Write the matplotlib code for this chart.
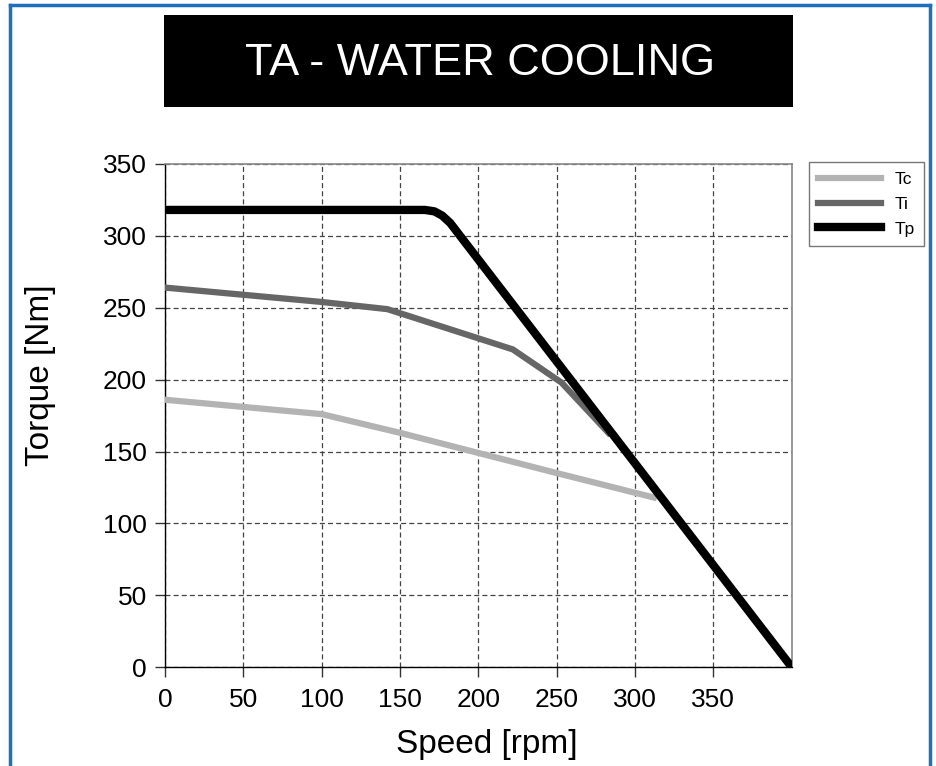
"""
Torque vs speed curves, TA water cooling.
"""

import matplotlib

matplotlib.use("Agg")

import matplotlib.pyplot as plt
from matplotlib.patches import Rectangle
from matplotlib.lines import Line2D


# speed [rpm] / torque [Nm]
TC_SPEED = [0, 100, 150, 200, 250, 312]
TC_TORQUE = [186, 176, 163, 149, 135, 118]

TI_SPEED = [0, 100, 142, 222, 253, 283]
TI_TORQUE = [264, 254, 249, 221, 198, 163]

TP_SPEED = [0, 166, 172, 177, 182, 400]
TP_TORQUE = [318, 318, 317, 314, 309, 0]

X_TICKS = [0, 50, 100, 150, 200, 250, 300, 350]
Y_TICKS = [0, 50, 100, 150, 200, 250, 300, 350]

TITLE = "TA - WATER COOLING"


plt.rcParams["font.family"] = ["Liberation Sans", "DejaVu Sans"]

fig = plt.figure(figsize=(9.37, 7.66), dpi=100)

# blue outer frame
for xs, ys in [
    ([0.011, 0.011], [0.0, 0.994]),
    ([0.011, 0.993], [0.994, 0.994]),
    ([0.993, 0.993], [0.0, 0.994]),
]:
    fig.add_artist(
        Line2D(xs, ys, transform=fig.transFigure,
               color="#1f6fbf", linewidth=2.5)
    )

# black title banner
fig.add_artist(
    Rectangle((0.175, 0.860), 0.671, 0.121,
              transform=fig.transFigure,
              facecolor="black", edgecolor="none")
)
fig.text(0.512, 0.917, TITLE, color="white",
         fontsize=32.5, ha="center", va="center")

ax = fig.add_axes([0.176, 0.129, 0.669, 0.657])

ax.plot(TC_SPEED, TC_TORQUE, color="#b3b3b3", linewidth=4.5,
        solid_joinstyle="round", label="Tc", zorder=3)
ax.plot(TI_SPEED, TI_TORQUE, color="#666666", linewidth=4.5,
        solid_joinstyle="round", label="Ti", zorder=4)
ax.plot(TP_SPEED, TP_TORQUE, color="black", linewidth=6,
        solid_joinstyle="round", label="Tp", zorder=5)

ax.set_xlim(0, 400)
ax.set_ylim(0, 350)
ax.set_xticks(X_TICKS)
ax.set_yticks(Y_TICKS)

ax.grid(True, linestyle=(0, (4, 2.5)), color="#444444", linewidth=0.9)

for side in ["left", "bottom"]:
    ax.spines[side].set_color("black")
    ax.spines[side].set_linewidth(1.0)
for side in ["top", "right"]:
    ax.spines[side].set_color("#888888")
    ax.spines[side].set_linewidth(1.2)

ax.tick_params(direction="out", length=7, width=1.0, color="#333333",
               labelsize=19)
ax.tick_params(axis="x", pad=8)
ax.tick_params(axis="y", pad=6)

ax.set_xlabel("Speed [rpm]", fontsize=24, labelpad=12)
ax.set_ylabel("Torque [Nm]", fontsize=24, labelpad=34)
ax.xaxis.label.set_x(0.514)
ax.yaxis.label.set_y(0.58)

leg = ax.legend(
    loc="upper left",
    bbox_to_anchor=(1.027, 1.003),
    fontsize=12.5,
    frameon=True,
    fancybox=False,
    edgecolor="#555555",
    handlelength=3.6,
    handletextpad=0.8,
    labelspacing=0.55,
    borderpad=0.55,
    borderaxespad=0.0,
)
leg.get_frame().set_linewidth(1.0)

fig.savefig("out.png", dpi=100)
